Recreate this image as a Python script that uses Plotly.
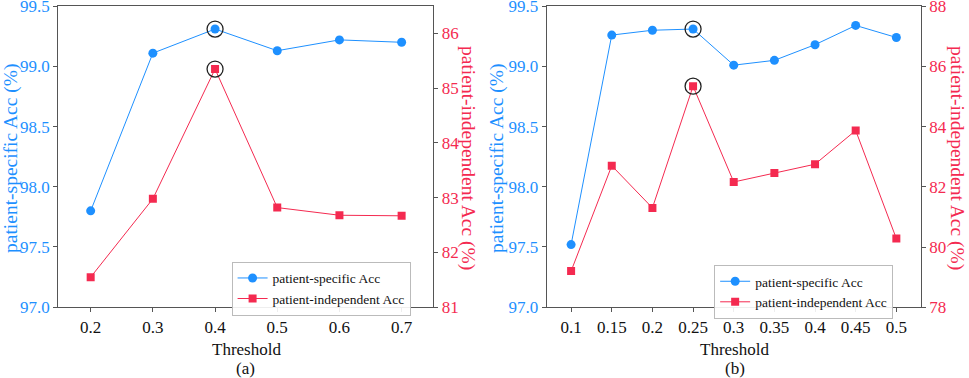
import plotly.graph_objects as go

# Panel (a)
thr_a = [0.2, 0.3, 0.4, 0.5, 0.6, 0.7]
spec_a = [97.80, 99.11, 99.31, 99.13, 99.22, 99.20]
indep_a = [81.55, 82.98, 85.35, 82.82, 82.68, 82.67]
best_a = 2

# Panel (b)
thr_b = [0.1, 0.15, 0.2, 0.25, 0.3, 0.35, 0.4, 0.45, 0.5]
thr_b_labels = ["0.1", "0.15", "0.2", "0.25", "0.3", "0.35", "0.4", "0.45", "0.5"]
spec_b = [97.52, 99.26, 99.30, 99.31, 99.01, 99.05, 99.18, 99.34, 99.24]
indep_b = [79.2, 82.7, 81.3, 85.34, 82.16, 82.46, 82.75, 83.87, 80.28]
best_b = 3

BLUE = "#1E90FF"
RED = "#F42A50"
AXC = "#555555"
FONT = "Liberation Serif"

fig = go.Figure()

def add_panel(x, s, p, best, xa, ya_l, ya_r, leg):
    fig.add_trace(go.Scatter(x=x, y=s, mode="lines+markers", name="patient-specific Acc",
                             line=dict(color=BLUE, width=1), marker=dict(symbol="circle", size=9, color=BLUE),
                             xaxis=xa, yaxis=ya_l, legend=leg))
    fig.add_trace(go.Scatter(x=x, y=p, mode="lines+markers", name="patient-independent Acc",
                             line=dict(color=RED, width=1), marker=dict(symbol="square", size=8, color=RED),
                             xaxis=xa, yaxis=ya_r, legend=leg))
    fig.add_trace(go.Scatter(x=[x[best]], y=[s[best]], mode="markers", showlegend=False,
                             marker=dict(symbol="circle-open", size=16, color="#222", line=dict(width=1.3)),
                             xaxis=xa, yaxis=ya_l))
    fig.add_trace(go.Scatter(x=[x[best]], y=[p[best]], mode="markers", showlegend=False,
                             marker=dict(symbol="circle-open", size=16, color="#222", line=dict(width=1.3)),
                             xaxis=xa, yaxis=ya_r))

add_panel(thr_a, spec_a, indep_a, best_a, "x", "y", "y2", "legend")
add_panel(thr_b, spec_b, indep_b, best_b, "x2", "y3", "y4", "legend2")

ydom = [0.187, 0.984]

def xax(dom, tv, tt, rng):
    return dict(domain=dom, range=rng, tickvals=tv, ticktext=tt, showgrid=False, zeroline=False,
                showline=True, linecolor=AXC, linewidth=1.2, mirror=True, ticks="outside",
                ticklen=4, tickcolor=AXC, automargin=False,
                tickfont=dict(family=FONT, size=17, color="#111"))

def yax(anchor, side, rng, tv, color, fmt, overlay=None):
    d = dict(domain=ydom, anchor=anchor, side=side, range=rng, tickvals=tv,
             ticktext=[format(v, fmt) for v in tv],
             showgrid=False, zeroline=False, showline=True, linecolor=AXC, linewidth=1.2,
             ticks="outside", ticklen=4, tickcolor=AXC, ticklabeloverflow="allow", automargin=False,
             tickfont=dict(family=FONT, size=17, color=color))
    if overlay:
        d["overlaying"] = overlay
    return d

yl_ticks = [97.0, 97.5, 98.0, 98.5, 99.0, 99.5]
yr_ticks_a = [81, 82, 83, 84, 85, 86]
yr_ticks_b = [78, 80, 82, 84, 86, 88]

legstyle = dict(font=dict(family=FONT, size=13.5, color="#111"), bordercolor="#BBBBBB", borderwidth=1,
                bgcolor="rgba(255,255,255,0.9)", xanchor="left", yanchor="top", tracegroupgap=0,
                itemwidth=30)

fig.update_layout(
    width=969, height=378, margin=dict(l=0, r=0, t=0, b=0, autoexpand=False),
    plot_bgcolor="white", paper_bgcolor="white",
    font=dict(family=FONT),
    xaxis=xax([0.0602, 0.4472], thr_a, [str(v) for v in thr_a], [0.148, 0.751]),
    xaxis2=xax([0.5642, 0.9502], thr_b, thr_b_labels, [0.07, 0.53]),
    yaxis=yax("x", "left", [96.999, 99.501], yl_ticks, BLUE, ".1f"),
    yaxis2=yax("x", "right", [81 - 0.001, 86.5], yr_ticks_a, RED, "d", overlay="y"),
    yaxis3=yax("x2", "left", [96.999, 99.501], yl_ticks, BLUE, ".1f"),
    yaxis4=yax("x2", "right", [77.998, 88.002], yr_ticks_b, RED, "d", overlay="y3"),
    legend=dict(legstyle, x=0.239, y=0.3077),
    legend2=dict(legstyle, x=0.737, y=0.299),
)

titlef = dict(family=FONT, size=19.5)
ann = [
    dict(x=11 / 969, y=(378 - 158) / 378, text="patient-specific Acc (%)", textangle=-90, font=dict(titlef, color=BLUE)),
    dict(x=468 / 969, y=(378 - 158) / 378, text="patient-independent Acc (%)", textangle=90, font=dict(titlef, color=RED)),
    dict(x=497 / 969, y=(378 - 158) / 378, text="patient-specific Acc (%)", textangle=-90, font=dict(titlef, color=BLUE)),
    dict(x=957 / 969, y=(378 - 158) / 378, text="patient-independent Acc (%)", textangle=90, font=dict(titlef, color=RED)),
    dict(x=247 / 969, y=(378 - 349) / 378, text="Threshold", font=dict(family=FONT, size=17, color="#111")),
    dict(x=245 / 969, y=(378 - 368) / 378, text="(a)", font=dict(family=FONT, size=17, color="#111")),
    dict(x=734 / 969, y=(378 - 349) / 378, text="Threshold", font=dict(family=FONT, size=17, color="#111")),
    dict(x=735 / 969, y=(378 - 368) / 378, text="(b)", font=dict(family=FONT, size=17, color="#111")),
]
for a in ann:
    fig.add_annotation(xref="paper", yref="paper", showarrow=False, xanchor="center", yanchor="middle", **a)

fig.write_html("out.html", config={"displayModeBar": False},
               post_script="document.body.style.margin='0px';")
